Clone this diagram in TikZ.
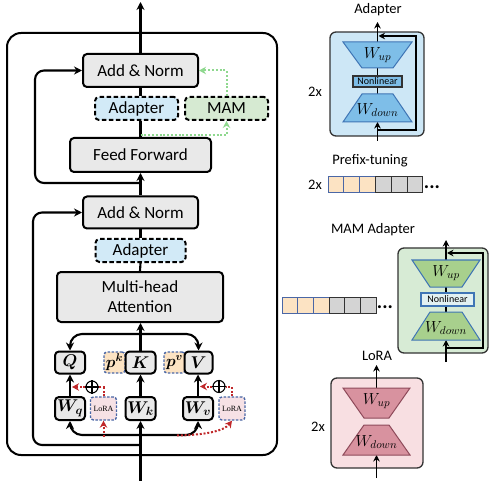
\RequirePackage{fix-cm}
\documentclass[tikz,border=0pt]{standalone}
\usepackage{amsmath}
\usepackage{bm}
\usepackage{fontspec}
\setmainfont{Carlito}
\newfontfamily\serifx{Liberation Serif}
\usetikzlibrary{arrows.meta,calc}

\definecolor{boxgray}{HTML}{E9E9E9}
\definecolor{adfill}{HTML}{D2EAF7}
\definecolor{mamfill}{HTML}{D6EAD2}
\definecolor{pfill}{HTML}{FCE3C3}
\definecolor{lfill}{HTML}{F6E1E5}
\definecolor{dashblue}{HTML}{4A67A6}
\definecolor{lred}{HTML}{C0282A}
\definecolor{mgreen}{HTML}{8FD88F}
\definecolor{adbg}{HTML}{CDE7F6}
\definecolor{adtrap}{HTML}{7EBEE8}
\definecolor{trapb}{HTML}{3F75B5}
\definecolor{mambg}{HTML}{D7EBD5}
\definecolor{mamtrap}{HTML}{A8D08D}
\definecolor{mamnl}{HTML}{E2F1F2}
\definecolor{lbg}{HTML}{F8DFE2}
\definecolor{ltrap}{HTML}{D8929F}
\definecolor{ltrapb}{HTML}{8E4A5A}
\definecolor{cellgray}{HTML}{D4D4D4}
\definecolor{panelb}{HTML}{333333}

\begin{document}
\begin{tikzpicture}[x=1pt,y=-1pt,
  gbox/.style={draw, line width=2pt, rounded corners=4pt, fill=boxgray, inner sep=0pt, align=center, font=\fontsize{17}{20}\selectfont},
  dbox/.style={draw, dash pattern=on 4.5pt off 2.5pt, line width=2pt, rounded corners=4pt, inner sep=0pt, font=\fontsize{17}{20}\selectfont},
  qbox/.style={gbox, minimum width=30pt, minimum height=22pt},
  pbox/.style={draw=dashblue, dash pattern=on 2.5pt off 1.5pt, line width=1.4pt, rounded corners=3pt, fill=pfill, minimum width=21pt, minimum height=21pt, inner sep=0pt, font=\fontsize{16}{18}\selectfont},
  lbox/.style={draw=dashblue, dash pattern=on 2.5pt off 1.5pt, line width=1.4pt, rounded corners=3pt, fill=lfill, minimum width=26pt, minimum height=23pt, inner sep=0pt, font=\serifx\fontsize{8}{9}\selectfont},
  conn/.style={line width=2.1pt},
  arr/.style={conn, -{Stealth[length=8pt,width=8pt]}},
  rdot/.style={draw=lred, line width=2pt, dash pattern=on 2pt off 1.8pt},
  rarr/.style={rdot, -{Stealth[length=7pt,width=7.5pt]}},
  gdot/.style={draw=mgreen, line width=2pt, dash pattern=on 2pt off 1.8pt, -{Stealth[length=7pt,width=7.5pt]}},
  thinl/.style={line width=1.2pt},
  tarr/.style={thinl, -{Stealth[length=6.5pt,width=6.5pt]}},
  title/.style={font=\fontsize{14.5}{17}\selectfont},
  wlab/.style={font=\fontsize{16}{18}\selectfont, inner sep=0pt},
  nl/.style={line width=1.1pt, minimum width=49pt, minimum height=11pt, inner sep=0pt, font=\fontsize{10}{12}\selectfont},
  cell/.style={draw, line width=1pt, minimum width=15.8pt, minimum height=16pt, inner sep=0pt},
  ocell/.style={cell, draw=dashblue, fill=pfill},
  gcell/.style={cell, draw=panelb, fill=cellgray},
  dots/.style={font=\bfseries\fontsize{20}{22}\selectfont, inner sep=0pt},
  panel/.style={draw=panelb, line width=1.3pt, rounded corners=6pt, inner sep=0pt}
]
\useasboundingbox (0,0) rectangle (490,481);

% ---------------- left: transformer block ----------------
\node[draw, line width=2pt, rounded corners=14pt, minimum width=270pt, minimum height=422pt, inner sep=0pt] (frame) at (142,244) {};

\node[gbox, minimum width=115pt, minimum height=33pt] (an2) at (140.5,70.5) {Add \& Norm};
\node[dbox, fill=adfill, minimum width=83pt, minimum height=23pt] (ad2) at (136.5,108.5) {Adapter};
\node[dbox, fill=mamfill, minimum width=83pt, minimum height=23pt] (mam) at (226.5,108.5) {MAM};
\node[gbox, minimum width=141pt, minimum height=34pt] (ff) at (140.5,155) {Feed Forward};
\node[gbox, minimum width=115pt, minimum height=32pt] (an1) at (140.5,212.5) {Add \& Norm};
\node[dbox, fill=adfill, minimum width=90pt, minimum height=23pt] (ad1) at (140.5,250.5) {Adapter};
\node[gbox, minimum width=166pt, minimum height=50pt] (mha) at (140,297) {Multi-head\\Attention};

\node[qbox] (Q) at (70,362.5) {$\bm{Q}$};
\node[pbox] (pk) at (114.5,362.5) {$\bm{p^k}$};
\node[qbox] (K) at (140.5,362.5) {$\bm{K}$};
\node[pbox] (pv) at (174.5,362.5) {$\bm{p^v}$};
\node[qbox, minimum width=28pt] (V) at (198.5,362.5) {$\bm{V}$};

\node[qbox, minimum height=23pt] (Wq) at (70,408.5) {$\bm{W_q}$};
\node[qbox, minimum height=23pt] (Wk) at (140.5,408.5) {$\bm{W_k}$};
\node[qbox, minimum height=23pt] (Wv) at (198,408.5) {$\bm{W_v}$};
\node[lbox] (lora1) at (103.5,408.5) {LoRA};
\node[lbox] (lora2) at (232,408.5) {LoRA};

\node[circle, draw, line width=1.1pt, minimum size=12pt, inner sep=0pt, fill=white] (op1) at (92,387) {};
\node[circle, draw, line width=1.1pt, minimum size=12pt, inner sep=0pt, fill=white] (op2) at (219,386.5) {};
\draw[line width=1.1pt] (op1.north)--(op1.south) (op1.west)--(op1.east);
\draw[line width=1.1pt] (op2.north)--(op2.south) (op2.west)--(op2.east);

% coordinates on the main line
\coordinate (bot) at (140.5,481);
\coordinate (top) at (140.5,2);
\coordinate (ws) at (140.5,435);
\coordinate (qkvs) at (140.5,334);
\coordinate (r1s) at (140.5,445);
\coordinate (r1c) at (33,445);
\coordinate (r2s) at (140.5,183);
\coordinate (r2c) at (35,183);
\coordinate (gs) at (140.5,135);
\coordinate (l1s) at (103.5,437);
\coordinate (l2s) at (177,435.5);

% main path
\draw[arr] (bot) -- (Wk.south);
\draw[arr] (Wk.north) -- (K.south);
\draw[arr] (K.north) -- (K.north|-mha.south);
\draw[conn] (mha.north) -- (ad1.south);
\draw[conn] (ad1.north) -- (an1.south);
\draw[arr] (an1.north) -- (ff.south);
\draw[conn] (ff.north) -- (ff.north|-ad2.south);
\draw[conn] (an2.south) -- (an2.south|-ad2.north);
\draw[arr] (an2.north) -- (top);

% residuals
\draw[arr, rounded corners=9pt] (r1s) -- (r1c) |- (an1.west);
\draw[arr, rounded corners=9pt] (r2s) -- (r2c) |- (an2.west);

% Q K V fan-out
\draw[arr, rounded corners=12pt] (qkvs) -| (Q.north);
\draw[arr, rounded corners=12pt] (qkvs) -| (V.north);
\draw[arr, rounded corners=12pt] (ws) -| (Wq.south);
\draw[arr, rounded corners=12pt] (ws) -| (Wv.south);
\draw[arr] (Wq.north) -- (Q.south);
\draw[arr] (Wv.north) -- (Wv.north|-V.south);

% LoRA (red dotted)
\draw[rdot] (lora1.north) |- (op1.east);
\draw[rarr] (op1.west) -- ($(Wq.north|-op1.west)+(2,0)$);
\draw[rarr] (l1s) -- (lora1.south);
\draw[rdot] (lora2.north) |- (op2.east);
\draw[rarr] (op2.west) -- ($(Wv.north|-op2.west)+(2,0)$);
\draw[rarr] (l2s) .. controls (205,435) and (224,431) .. (lora2.south);

% MAM (green dotted)
\draw[gdot] (gs) -| (mam.south);
\draw[gdot] (mam.north) |- (an2.east);

% ---------------- right: Adapter ----------------
\node[title] (tad) at (378,10) {Adapter};
\node[title] (ad2x) at (315,92) {2x};
\node[panel, fill=adbg, minimum width=94pt, minimum height=104pt] (adbox) at (377,84) {};
\draw[tarr] (377.5,141) -- (377.5,122);
\draw[tarr] (377.5,130) -- (416,130) -- (416,36) -- (378.5,36);
\draw[thinl] (377.5,68) -- (377.5,94);
\draw[tarr] (377.5,42) -- (377.5,22);
\draw[fill=adtrap, draw=trapb, line width=1pt] (343,42) -- (412,42) -- (393,68) -- (362,68) -- cycle;
\draw[fill=adtrap, draw=trapb, line width=1pt] (362,94) -- (393,94) -- (412,122) -- (343,122) -- cycle;
\node[wlab] (adup) at (377.5,55) {$W_{up}$};
\node[wlab] (addown) at (377.5,110) {$W_{down}$};
\node[nl, draw=panelb, fill=adtrap] (adnl) at (377.5,81.5) {Nonlinear};

% ---------------- right: Prefix-tuning ----------------
\node[title] (tpre) at (370,161) {Prefix-tuning};
\node[title] (pre2x) at (315,185) {2x};
\foreach \i in {0,1,2} {\node[ocell] (pa\i) at ({328+15.83*(\i+0.5)},185) {};}
\foreach \i in {3,4,5} {\node[gcell] (pa\i) at ({328+15.83*(\i+0.5)},185) {};}
\node[dots] (pdots) at (432,187) {...};

% ---------------- right: MAM Adapter ----------------
\node[title] (tmam) at (373,230) {MAM Adapter};
\foreach \i in {0,1,2} {\node[ocell, minimum width=15.67pt] (pb\i) at ({282+15.67*(\i+0.5)},305) {};}
\foreach \i in {3,4,5} {\node[gcell, minimum width=15.67pt] (pb\i) at ({282+15.67*(\i+0.5)},305) {};}
\node[dots] (mdots) at (385,307) {...};
\node[panel, fill=mambg, minimum width=90pt, minimum height=105pt] (mambox) at (443,300.5) {};
\draw[tarr] (446,362) -- (446,340);
\draw[tarr] (446,348) -- (483,348) -- (483,253) -- (447,253);
\draw[thinl] (446,287) -- (446,312);
\draw[tarr] (446,260) -- (446,240);
\draw[fill=mamtrap, draw=trapb, line width=1pt] (412,260) -- (480,260) -- (462,287) -- (430,287) -- cycle;
\draw[fill=mamtrap, draw=trapb, line width=1pt] (430,312) -- (462,312) -- (480,340) -- (412,340) -- cycle;
\node[wlab] (mamup) at (446,273) {$W_{up}$};
\node[wlab] (mamdown) at (446,328) {$W_{down}$};
\node[nl, draw=trapb, fill=mamnl, minimum width=53pt, minimum height=13pt] (mamnlb) at (447.5,299.5) {Nonlinear};

% ---------------- right: LoRA ----------------
\node[title] (tlora) at (377,356) {LoRA};
\node[title] (lo2x) at (318,427) {2x};
\node[panel, fill=lbg, minimum width=92pt, minimum height=90pt] (lobox) at (377,423) {};
\draw[tarr] (376.5,478) -- (376.5,455);
\draw[tarr] (376.5,388) -- (376.5,365);
\draw[fill=ltrap, draw=ltrapb, line width=1pt] (343,388) -- (410,388) -- (389,418) -- (364,418) -- cycle;
\draw[fill=ltrap, draw=ltrapb, line width=1pt] (364,425) -- (389,425) -- (410,455) -- (343,455) -- cycle;
\node[wlab] (loup) at (376.5,401) {$W_{up}$};
\node[wlab] (lodown) at (376.5,442) {$W_{down}$};
\end{tikzpicture}
\end{document}
